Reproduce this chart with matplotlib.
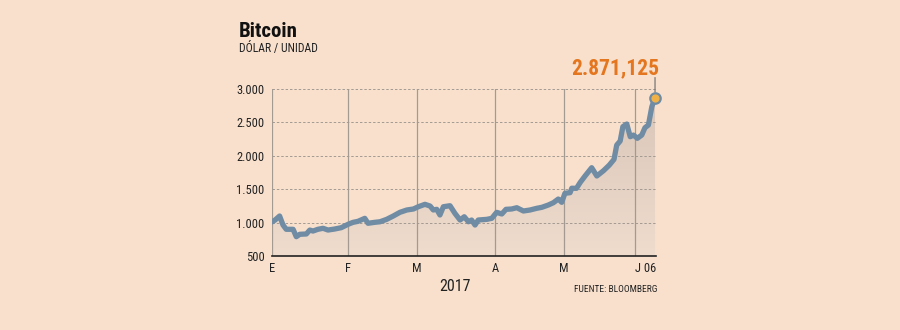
import numpy as np
import matplotlib
matplotlib.use("Agg")
import matplotlib.pyplot as plt
from matplotlib import font_manager as fm
from matplotlib.colors import LinearSegmentedColormap

# Bitcoin, dollars per unit, 2017 (days counted from Jan 1)
days = [0, 1.3, 3.1, 4.5, 5.8, 8.6, 9.9, 11.3, 14.0, 15.4, 16.7, 18.7, 20.8, 22.8,
        25.5, 28.2, 31.0, 33.0, 35.0, 37.8, 39.1, 41.8, 44.0, 46.7, 49.4, 52.1,
        54.9, 57.6, 59.6, 62.3, 64.4, 65.7, 67.1, 68.4, 69.8, 72.5, 74.5, 76.6,
        78.3, 80.0, 81.3, 82.7, 84.0, 87.5, 89.5, 91.5, 93.6, 95.3, 97.6, 99.7,
        102.4, 105.1, 107.8, 109.9, 112.5, 114.6, 116.6, 118.0, 119.3, 121.4,
        122.1, 124.0, 125.5, 127.5, 130.2, 132.3, 135.0, 137.4, 139.3, 140.4,
        141.8, 142.9, 144.5, 145.9, 147.2, 148.8, 150.6, 151.9, 153.3, 154.7, 156.0]
price = [1010, 1040, 1099, 964, 900, 900, 789, 825, 830, 889, 874, 900, 915, 889,
         904, 924, 975, 1004, 1019, 1064, 990, 1004, 1013, 1049, 1099, 1154,
         1189, 1204, 1238, 1274, 1248, 1189, 1199, 1114, 1238, 1253, 1139, 1039,
         1088, 1013, 1039, 964, 1039, 1049, 1064, 1154, 1129, 1199, 1204, 1223,
         1174, 1189, 1214, 1229, 1263, 1298, 1353, 1304, 1439, 1448,
         1515, 1513, 1600, 1698, 1822, 1698, 1777, 1862, 1947, 2161,
         2221, 2436, 2476, 2286, 2311, 2262, 2311, 2421, 2461, 2735, 2871.125]

month_days = [0, 31, 59, 91, 119, 148]
month_labels = ["E", "F", "M", "A", "M", "J 06"]
y_ticks = [500, 1000, 1500, 2000, 2500, 3000]
y_labels = ["500", "1.000", "1.500", "2.000", "2.500", "3.000"]
last_label = "2.871,125"

BG = "#f8e0cd"
LINE = "#6f8ca4"
ORANGE = "#e4761f"
GRID = "#a39a92"

# pick a narrow sans that is installed
have = {f.name for f in fm.fontManager.ttflist}
narrow = "DejaVu Sans"
for cand in ["Roboto Condensed", "Fira Sans Condensed", "PT Sans Narrow",
             "Archivo Narrow", "Asap Condensed", "Sofia Sans Condensed",
             "Saira SemiCondensed", "Liberation Sans Narrow"]:
    if cand in have:
        narrow = cand
        break
plt.rcParams["font.family"] = [narrow, "DejaVu Sans"]

fig = plt.figure(figsize=(9, 3.3), dpi=100, facecolor=BG)
ax = fig.add_axes([0.3022, 0.2242, 0.4267, 0.506])
ax.set_facecolor(BG)

ax.set_xlim(0, 156.4)
ax.set_ylim(500, 3000)

# gradient fill under the line
cmap = LinearSegmentedColormap.from_list("fill", ["#efdccd", "#d8c5b8"])
grad = np.linspace(0, 1, 256).reshape(-1, 1)
img = ax.imshow(grad, cmap=cmap, aspect="auto", origin="lower",
                extent=[0, 156.4, 500, 3000], zorder=1)
poly = ax.fill_between(days, price, 500, color="none", lw=0)
img.set_clip_path(poly.get_paths()[0], transform=ax.transData)

# grid
for y in y_ticks[1:]:
    ax.axhline(y, color=GRID, lw=0.7, ls=(0, (2.5, 2)), zorder=2)
for d in month_days:
    ax.axvline(d, color=GRID, lw=0.9, zorder=2)

ax.plot(days, price, color=LINE, lw=3.8, solid_joinstyle="round",
        solid_capstyle="round", zorder=3)
ax.plot(days[-1], price[-1], "o", ms=7.5, mfc="#f0b248", mec=LINE, mew=1.6,
        zorder=4, clip_on=False)

# value label with leader
ax.annotate("", xy=(days[-1], price[-1]), xytext=(0, 14.5), textcoords="offset points",
            xycoords="data", arrowprops=dict(arrowstyle="-", color="#6a6a6a", lw=0.8,
                                             shrinkA=0, shrinkB=4), annotation_clip=False)
ax.annotate(last_label, xy=(days[-1], price[-1]), xytext=(-28.6, 16.6),
            textcoords="offset points", ha="center", va="baseline", color=ORANGE,
            fontsize=15.5, fontweight="bold", annotation_clip=False)

for s in ["top", "right", "left"]:
    ax.spines[s].set_visible(False)
ax.spines["bottom"].set_color("#222222")
ax.spines["bottom"].set_linewidth(1.2)
ax.spines["bottom"].set_zorder(5)

ax.set_yticks(y_ticks)
ax.set_yticklabels(y_labels)
ax.set_xticks(month_days)
ax.set_xticklabels(month_labels)
ax.tick_params(axis="both", length=0, labelsize=9, colors="#222222")
ax.tick_params(axis="y", pad=5.5)
ax.tick_params(axis="x", pad=4.5)
ax.get_xticklabels()[-1].set_ha("left")
ax.get_xticklabels()[-1].set_x(146.2)

fig.text(0.265, 0.889, "Bitcoin", fontsize=15, fontweight="bold", color="#111111",
         va="baseline")
fig.text(0.266, 0.8415, "DÓLAR / UNIDAD", fontsize=8.5, color="#222222", va="baseline")
fig.text(0.5056, 0.119, "2017", fontsize=11.5, color="#222222", ha="center",
         va="baseline")
fig.text(0.7308, 0.114, "FUENTE: BLOOMBERG", fontsize=6.8, color="#222222", ha="right",
         va="baseline")

fig.savefig("out.png", dpi=100, facecolor=BG)
